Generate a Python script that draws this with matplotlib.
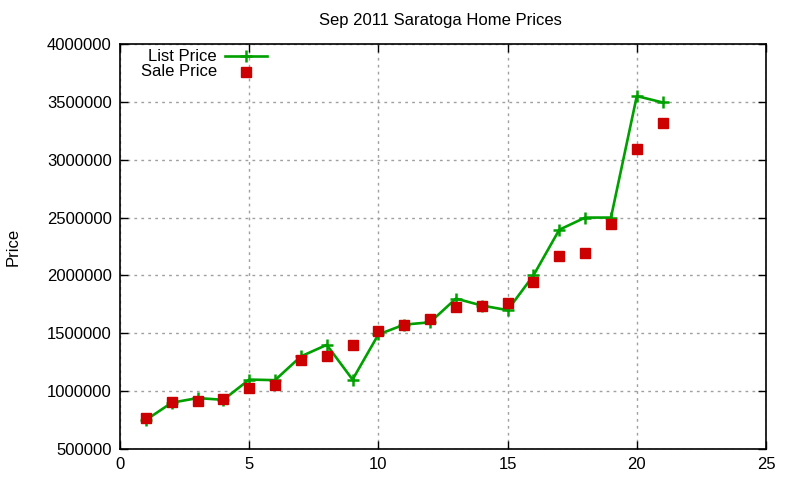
import matplotlib
matplotlib.use("Agg")
import matplotlib.pyplot as plt
from matplotlib.lines import Line2D

plt.rcParams['font.family'] = ['Liberation Sans', 'DejaVu Sans']

homes = list(range(1, 22))
list_price = [750000, 900000, 940000, 925000, 1100000, 1095000, 1300000, 1400000,
              1100000, 1490000, 1575000, 1595000, 1800000, 1740000, 1700000,
              2000000, 2395000, 2500000, 2500000, 3550000, 3495000]
sale_price = [770000, 905000, 918000, 932000, 1030000, 1056000, 1267000, 1307000,
              1401000, 1522000, 1574000, 1624000, 1730000, 1739000, 1764000,
              1946000, 2168000, 2197000, 2447000, 3093000, 3320000]

GREEN = '#00a000'
RED = '#cc0000'

fig = plt.figure(figsize=(8, 4.8), dpi=100)
ax = fig.add_axes([0.15, 0.0646, 0.8075, 0.8437])

ax.plot(homes, list_price, color=GREEN, lw=1.9, marker='+', ms=9, mew=1.8, zorder=3)
ax.plot(homes, sale_price, color=RED, lw=0, marker='s', ms=7, zorder=4)

ax.set_xlim(0, 25)
ax.set_ylim(500000, 4000000)
ax.set_xticks([0, 5, 10, 15, 20, 25])
ax.set_yticks([500000, 1000000, 1500000, 2000000, 2500000, 3000000, 3500000, 4000000])
ax.set_yticklabels([str(v) for v in ax.get_yticks().astype(int)])
ax.grid(True, color='#a0a0a0', linestyle=(0, (2, 3)), lw=1)
ax.set_axisbelow(True)
ax.tick_params(direction='in', top=True, right=True, length=6, labelsize=12, pad=6, width=1)
for s in ax.spines.values():
    s.set_linewidth(1.2)

fig.text(0.55, 0.958, 'Sep 2011 Saratoga Home Prices', ha='center', va='center', fontsize=12)
fig.text(0.016, 0.485, 'Price', rotation=90, ha='center', va='center', fontsize=12)

# legend (gnuplot style: label right-aligned, sample to the right)
ax.text(0.150, 0.970, 'List Price', transform=ax.transAxes, ha='right', va='center', fontsize=12)
ax.text(0.150, 0.932, 'Sale Price', transform=ax.transAxes, ha='right', va='center', fontsize=12)
ax.add_line(Line2D([0.1625, 0.2276], [0.970, 0.970], transform=ax.transAxes,
                   color=GREEN, lw=1.9))
ax.add_line(Line2D([0.195], [0.970], transform=ax.transAxes, color=GREEN,
                   marker='+', ms=9, mew=1.8))
ax.add_line(Line2D([0.195], [0.932], transform=ax.transAxes, color=RED, lw=0,
                   marker='s', ms=7))

fig.savefig('out.png', dpi=100)
